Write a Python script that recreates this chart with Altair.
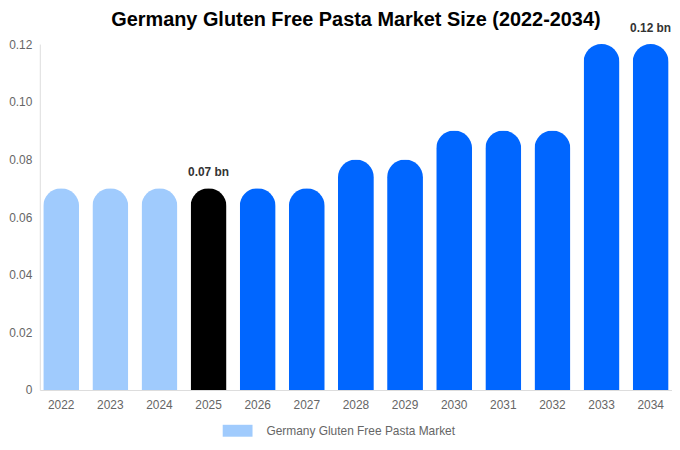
import altair as alt
import pandas as pd

years = ["2022", "2023", "2024", "2025", "2026", "2027", "2028",
         "2029", "2030", "2031", "2032", "2033", "2034"]
values = [0.07, 0.07, 0.07, 0.07, 0.07, 0.07, 0.08,
          0.08, 0.09, 0.09, 0.09, 0.12, 0.12]
groups = ["Germany Gluten Free Pasta Market"] * 3 + ["current"] + ["forecast"] * 9
labels = ["", "", "", "0.07 bn", "", "", "", "", "", "", "", "", "0.12 bn"]

df = pd.DataFrame({"year": years, "value": values, "group": groups, "label": labels})

font = "Liberation Sans"

base = alt.Chart(df).encode(
    x=alt.X("year:N", sort=years, title=None).scale(paddingInner=0.27, paddingOuter=0.07).axis(
        labelAngle=0, labelFontSize=12, labelColor="#666", labelPadding=10,
        ticks=False, domainColor="#ddd", labelFont=font),
    y=alt.Y("value:Q", title=None).scale(domain=[0, 0.12], nice=False).axis(
        values=[0, 0.02, 0.04, 0.06, 0.08, 0.10, 0.12],
        labelExpr="datum.value == 0 ? '0' : format(datum.value, '.2f')",
        labelFontSize=12, labelColor="#666", labelPadding=8, ticks=False,
        grid=False, domainColor="#ddd", labelFont=font),
)

bars = base.mark_bar(cornerRadiusTopLeft=18, cornerRadiusTopRight=18).encode(
    color=alt.Color("group:N").scale(
        domain=["Germany Gluten Free Pasta Market", "current", "forecast"],
        range=["#a0cbfd", "#000000", "#0066ff"]).legend(
        values=["Germany Gluten Free Pasta Market"], title=None, orient="none",
        legendX=184, legendY=374, labelLimit=400, labelOffset=14,
        symbolType="M-1,-0.4H1V0.4H-1Z", symbolSize=900, symbolStrokeWidth=0,
        symbolOpacity=1, labelFontSize=12, labelColor="#666", labelFont=font),
)

text = base.mark_text(dy=-16, fontSize=12, fontWeight="bold", color="#333", font=font).encode(
    text="label:N"
).transform_filter("datum.label != ''")

chart = (bars + text).properties(
    width=636, height=348,
    title=alt.Title("Germany Gluten Free Pasta Market Size (2022-2034)",
                    fontSize=20, fontWeight="bold", font=font, color="#000", offset=-8),
    padding={"left": 0, "top": 1, "right": 0, "bottom": 0},
).configure_view(stroke=None)

chart.save("out.html", embed_options={"renderer": "svg", "actions": False})
